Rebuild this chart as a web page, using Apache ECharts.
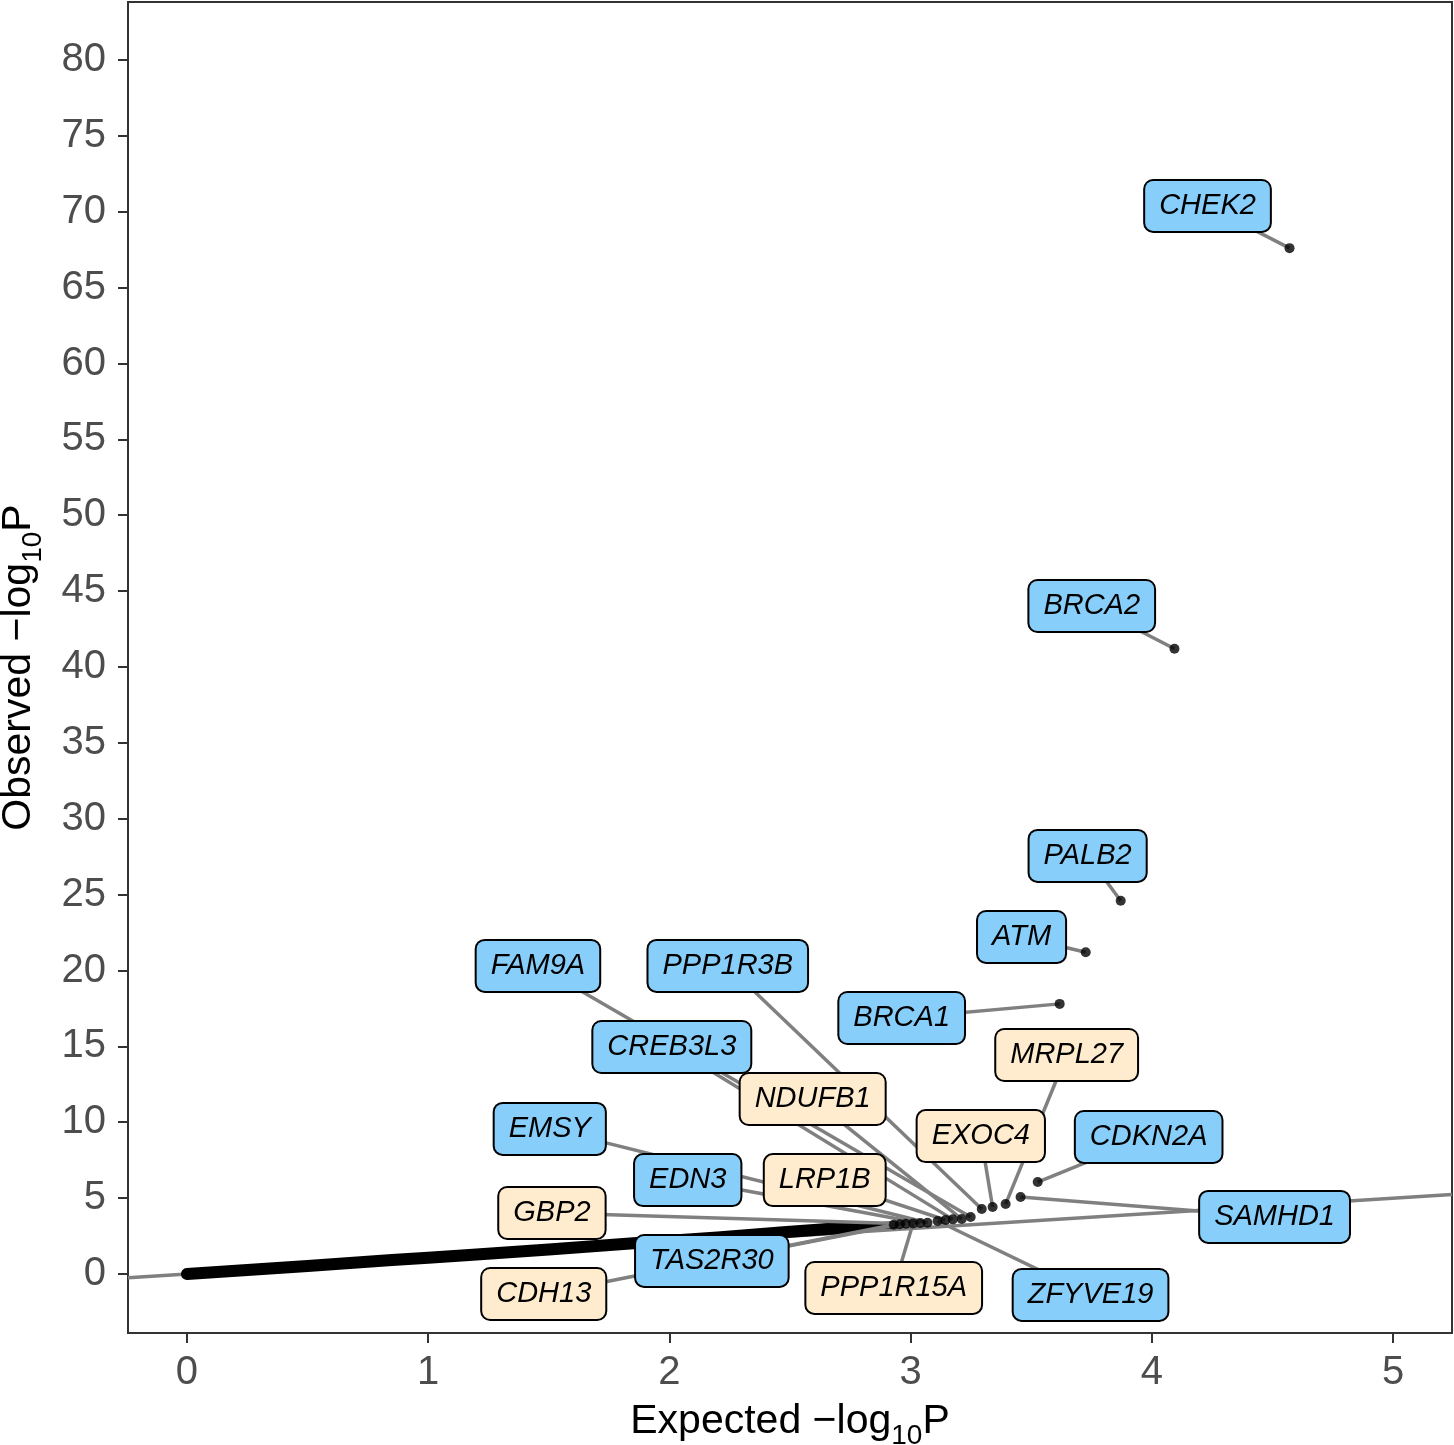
<!DOCTYPE html>
<html>
<head>
<meta charset="utf-8">
<script src="https://cdn.jsdelivr.net/npm/echarts@6/dist/echarts.min.js"></script>
<style>
html,body{margin:0;padding:0;background:#fff;}
#chart{width:1454px;height:1445px;}
</style>
</head>
<body>
<div id="chart"></div>
<script>
// ---------- data ----------
const xTicks = [0, 1, 2, 3, 4, 5];
const yTicks = [0, 5, 10, 15, 20, 25, 30, 35, 40, 45, 50, 55, 60, 65, 70, 75, 80];

// dense bulk of genes (read along the thick black band)
const bulkX = [0, 0.25, 0.5, 0.85, 1.0, 1.17, 1.5, 1.865, 2.2, 2.486, 2.7, 2.78];
const bulkY = [0, 0.26, 0.53, 0.92, 1.07, 1.25, 1.62, 2.04, 2.4, 2.77, 3.02, 3.1];
// thinner end of the band
const taperX = [2.7, 2.8, 2.88, 2.93];
const taperY = [3.02, 3.13, 3.2, 3.25];

// labelled genes
const genes  = ['CHEK2','BRCA2','PALB2','ATM','BRCA1','CDKN2A','SAMHD1','MRPL27','EXOC4','PPP1R3B','FAM9A','NDUFB1','CREB3L3','LRP1B','ZFYVE19','EMSY','EDN3','PPP1R15A','GBP2','TAS2R30','CDH13'];
const geneX  = [4.571, 4.094, 3.871, 3.726, 3.618, 3.527, 3.456, 3.394, 3.340, 3.295, 3.249, 3.212, 3.175, 3.145, 3.112, 3.07, 3.04, 3.01, 2.98, 2.955, 2.93];
const geneY  = [67.6, 41.2, 24.6, 21.2, 17.8, 6.06, 5.07, 4.61, 4.42, 4.28, 3.76, 3.62, 3.60, 3.56, 3.49, 3.38, 3.36, 3.33, 3.31, 3.28, 3.25];
const geneClass = ['known','known','known','known','known','known','known','novel','novel','known','known','novel','known','novel','known','known','known','novel','novel','known','novel'];

// ---------- layout (label box centres, data units) ----------
const labelX = [4.231, 3.751, 3.734, 3.460, 2.963, 3.987, 4.509, 3.647, 3.291, 2.242, 1.455, 2.594, 2.010, 2.644, 3.746, 1.504, 2.076, 2.930, 1.513, 2.176, 1.479];
const labelY = [70.38, 44.02, 27.55, 22.21, 16.87, 9.03, 3.76, 14.43, 9.09, 20.30, 20.30, 11.53, 14.96, 6.19, -1.38, 9.56, 6.19, -0.92, 4.02, 0.86, -1.32];

// ---------- styles ----------
const FONT = '"Liberation Sans", Arial, Helvetica, sans-serif';
const classColor = { known: '#87CEFA', novel: '#FFEBCD' };
const segColor = '#808080';
const frame = '#333333';

const chart = echarts.init(document.getElementById('chart'), null, { renderer: 'canvas' });

const X_MIN = -0.2446, X_MAX = 5.2446, Y_MIN = -3.888, Y_MAX = 83.82;

const segData = genes.map((g, i) => [labelX[i], labelY[i], geneX[i], geneY[i]]);
const lblData = genes.map((g, i) => [labelX[i], labelY[i]]);

const titleRich = {
  a: { fontFamily: FONT, fontSize: 41, color: '#000', lineHeight: 56, verticalAlign: 'middle' },
  s: { fontFamily: FONT, fontSize: 28, color: '#000', verticalAlign: 'bottom' }
};

const option = {
  animation: false,
  backgroundColor: '#fff',
  grid: { left: 128, top: 2, right: 2, bottom: 112, containLabel: false, outerBoundsMode: 'none',
          show: true, borderColor: frame, borderWidth: 2, backgroundColor: 'transparent' },
  xAxis: {
    type: 'value', min: X_MIN, max: X_MAX,
    name: '{a|Expected \u2212log}{s|10}{a|P}',
    nameLocation: 'middle', nameGap: 61,
    nameTextStyle: { rich: titleRich },
    axisLine: { show: true, onZero: false, lineStyle: { color: frame, width: 2 } },
    axisTick: { show: true, length: 10, lineStyle: { color: frame, width: 2 }, customValues: xTicks },
    axisLabel: { fontFamily: FONT, fontSize: 40, color: '#4D4D4D', margin: 20, customValues: xTicks },
    splitLine: { show: false }
  },
  yAxis: {
    type: 'value', min: Y_MIN, max: Y_MAX,
    name: '{a|Observed \u2212log}{s|10}{a|P}',
    nameLocation: 'middle', nameGap: 81, nameRotate: 90,
    nameTextStyle: { rich: titleRich },
    axisLine: { show: true, onZero: false, lineStyle: { color: frame, width: 2 } },
    axisTick: { show: true, length: 10, lineStyle: { color: frame, width: 2 }, customValues: yTicks },
    axisLabel: { fontFamily: FONT, fontSize: 40, color: '#4D4D4D', margin: 22, customValues: yTicks },
    splitLine: { show: false }
  },
  series: [
    {
      name: 'diagonal', type: 'line', z: 1, silent: true, showSymbol: false,
      data: [[X_MIN, X_MIN], [X_MAX, X_MAX]],
      lineStyle: { color: segColor, width: 3.5 }
    },
    {
      name: 'bulk', type: 'line', z: 2, silent: true, showSymbol: false, smooth: false,
      data: bulkX.map((x, i) => [x, bulkY[i]]),
      lineStyle: { color: '#000', width: 12, cap: 'round', join: 'round' }
    },
    {
      name: 'taper', type: 'line', z: 2, silent: true, showSymbol: false,
      data: taperX.map((x, i) => [x, taperY[i]]),
      lineStyle: { color: '#000', width: 7, cap: 'round', join: 'round' }
    },
    {
      name: 'segments', type: 'custom', z: 3, silent: true, clip: false,
      data: segData,
      encode: { x: [0, 2], y: [1, 3] },
      renderItem: function (params, api) {
        const a = api.coord([api.value(0), api.value(1)]);
        const b = api.coord([api.value(2), api.value(3)]);
        return { type: 'line', shape: { x1: a[0], y1: a[1], x2: b[0], y2: b[1] },
                 style: { stroke: segColor, lineWidth: 3.5 } };
      }
    },
    {
      name: 'genes', type: 'scatter', z: 4, silent: true,
      data: geneX.map((x, i) => [x, geneY[i]]),
      symbolSize: 10,
      itemStyle: { color: '#000' }
    },
    {
      name: 'labels', type: 'custom', z: 5, silent: true, clip: false,
      data: lblData,
      encode: { x: 0, y: 1 },
      renderItem: function (params, api) {
        const i = params.dataIndex;
        const p = api.coord([api.value(0), api.value(1)]);
        return {
          type: 'text', x: p[0], y: p[1],
          style: {
            text: genes[i], fontFamily: FONT, fontSize: 29, fontStyle: 'italic',
            fill: '#000', align: 'center', verticalAlign: 'middle',
            backgroundColor: classColor[geneClass[i]],
            borderColor: '#000', borderWidth: 2, borderRadius: 8,
            padding: [9, 14, 8, 14], lineHeight: 33
          }
        };
      }
    }
  ]
};
chart.setOption(option);
</script>
</body>
</html>
